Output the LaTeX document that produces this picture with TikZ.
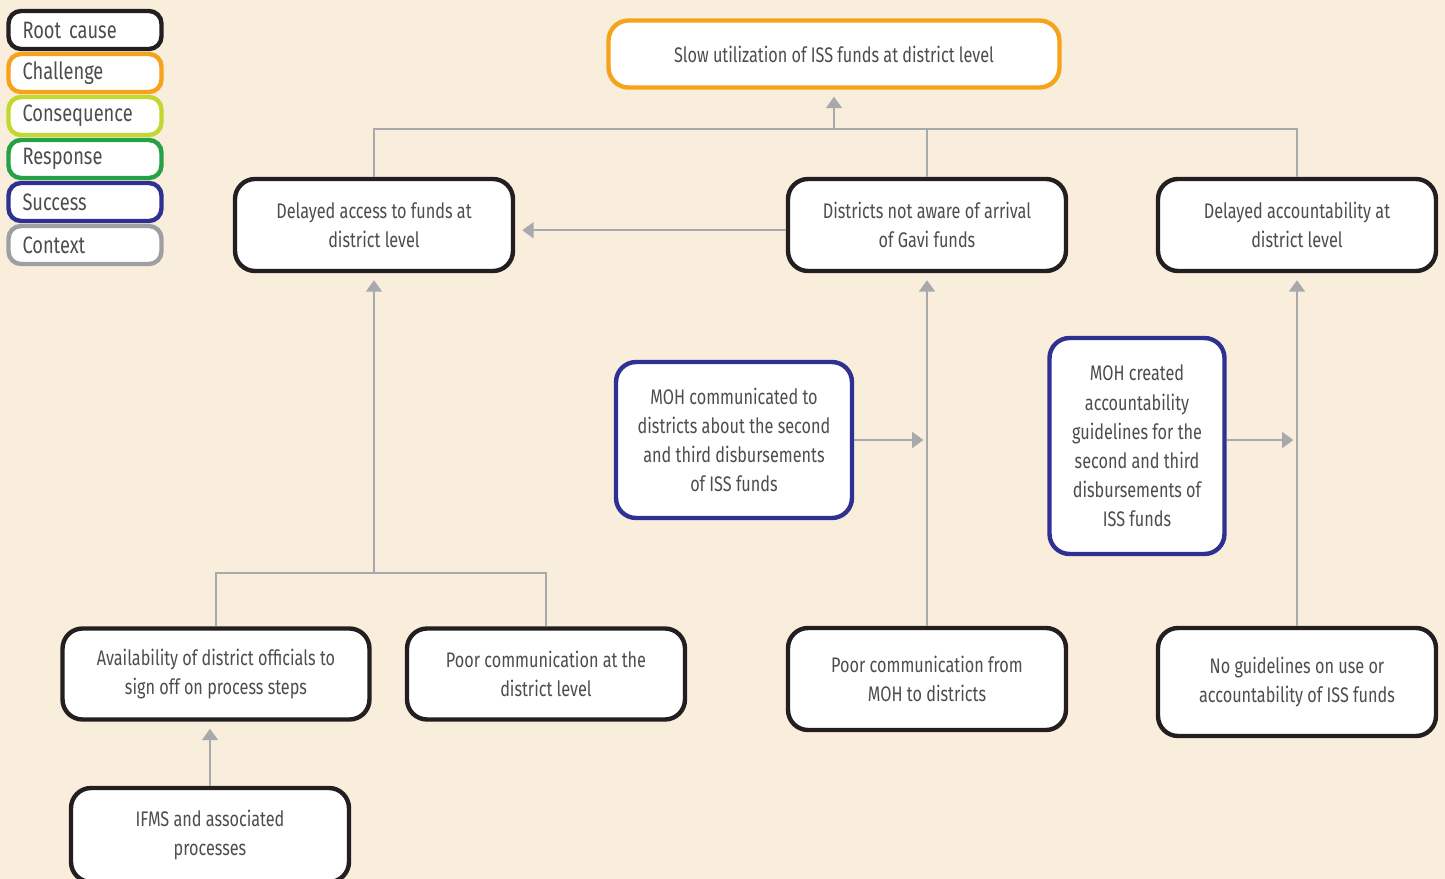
\documentclass[tikz,border=0pt]{standalone}
\usepackage{fontspec}
\setmainfont{Fira Sans}[FakeStretch=0.77]
\usetikzlibrary{arrows.meta}

\definecolor{bgc}{HTML}{F9EDDC}
\definecolor{txtc}{HTML}{4D4D4F}
\definecolor{linec}{HTML}{A7A9AC}
\definecolor{rootc}{HTML}{231F20}
\definecolor{challc}{HTML}{F7A21B}
\definecolor{consc}{HTML}{C2D82E}
\definecolor{respc}{HTML}{26A146}
\definecolor{succc}{HTML}{2E3192}
\definecolor{ctxc}{HTML}{9D9FA2}

\begin{document}
\begin{tikzpicture}[x=0.02cm,y=-0.02cm,
	box/.style={draw, fill=white, line width=2.5pt, rounded corners=0.4cm, align=center, text=txtc, font=\fontsize{12}{16.6}\selectfont},
	key/.style={box, rounded corners=0.25cm, minimum width=3.04cm, minimum height=0.76cm, text width=2.5cm, align=left, inner xsep=0.28cm, inner ysep=0pt, font=\fontsize{13.5}{16}\selectfont},
	conn/.style={draw=linec, line width=1.3pt},
	arr/.style={conn, -{Triangle[length=6.5pt,width=9pt]}, shorten >=4pt}]
	\fill[bgc] (0,0) rectangle (1445,879);
	\useasboundingbox (0,0) rectangle (1445,879);

	% legend
	\node[key, draw=rootc] (kroot) at (85,30) {Root cause};
	\node[key, draw=challc] (kchall) at (85,73) {Challenge};
	\node[key, draw=consc] (kcons) at (85,116) {Consequence};
	\node[key, draw=respc] (kresp) at (85,159) {Response};
	\node[key, draw=succc] (ksucc) at (85,202) {Success};
	\node[key, draw=ctxc] (kctx) at (85,245) {Context};

	% boxes
	\node[box, draw=challc, minimum width=9.02cm, minimum height=1.34cm] (slow) at (834,54) {Slow utilization of ISS funds at district level};
	\node[box, draw=rootc, minimum width=5.56cm, minimum height=1.84cm] (acc) at (374,225) {Delayed access to funds at\\district level};
	\node[box, draw=rootc, minimum width=5.56cm, minimum height=1.84cm] (aware) at (927,225) {Districts not aware of arrival\\of Gavi funds};
	\node[box, draw=rootc, minimum width=5.56cm, minimum height=1.84cm] (acct) at (1297,225) {Delayed accountability at\\district level};
	\node[box, draw=succc, minimum width=4.72cm, minimum height=3.12cm] (mohc) at (734,440) {MOH communicated to\\districts about the second\\and third disbursements\\of ISS funds};
	\node[box, draw=succc, minimum width=3.5cm, minimum height=4.32cm] (mohg) at (1137,446) {MOH created\\accountability\\guidelines for the\\second and third\\disbursements of\\ISS funds};
	\node[box, draw=rootc, minimum width=6.14cm, minimum height=1.82cm] (avail) at (216,674) {Availability of district officials to\\sign off on process steps};
	\node[box, draw=rootc, minimum width=5.56cm, minimum height=1.82cm] (poord) at (546,674) {Poor communication at the\\district level};
	\node[box, draw=rootc, minimum width=5.56cm, minimum height=2.04cm] (poorm) at (927,679) {Poor communication from\\MOH to districts};
	\node[box, draw=rootc, minimum width=5.56cm, minimum height=2.16cm] (noguide) at (1297,682) {No guidelines on use or\\accountability of ISS funds};
	\node[box, draw=rootc, minimum width=5.56cm, minimum height=1.88cm] (ifms) at (210,835) {IFMS and associated\\processes};

	% connectors
	\coordinate (hub) at (834,129);
	\coordinate (fork) at (374,573);
	\draw[conn] (acc.north) |- (hub) -| (acct.north);
	\draw[conn] (aware.north) -- (aware.north |- hub);
	\draw[arr] (hub) -- (hub |- slow.south);
	\draw[arr] ([yshift=-3pt]aware.west) -- ([yshift=-3pt]acc.east);
	\draw[conn] (avail.north) |- (fork) -| (poord.north);
	\draw[arr] (fork) -- (acc.south);
	\draw[arr] (poorm.north) -- (aware.south);
	\draw[arr, shorten >=2pt] (mohc.east) -- (mohc.east -| aware.south);
	\draw[arr] (noguide.north) -- (acct.south);
	\draw[arr, shorten >=2pt] ([yshift=3.4pt]mohg.east) -- ([yshift=3.4pt]mohg.east -| acct.south);
	\draw[arr] (ifms.north) -- (ifms.north |- avail.south);
\end{tikzpicture}
\end{document}
